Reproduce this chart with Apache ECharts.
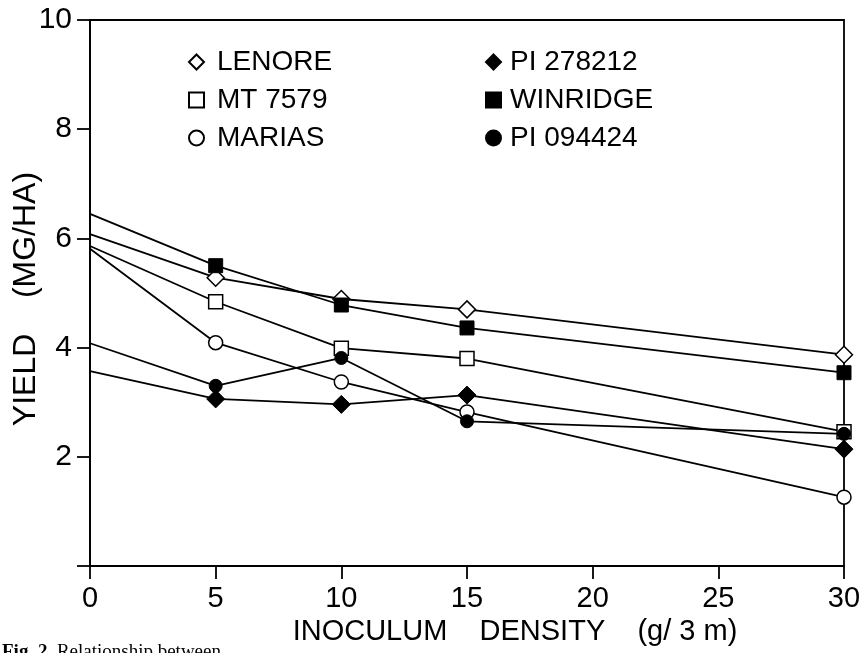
<!DOCTYPE html>
<html>
<head>
<meta charset="utf-8">
<script src="https://cdn.jsdelivr.net/npm/echarts@6/dist/echarts.min.js"></script>
<style>html,body{margin:0;padding:0;background:#fff;}#chart{width:866px;height:653px;}</style>
</head>
<body>
<div id="chart"></div>
<script>
// Inoculum density (g/3m)
const densities = [0, 5, 10, 15, 30];
// Yield (Mg/ha) per cultivar
const lenore   = [6.08, 5.28, 4.89, 4.70, 3.87];
const mt7579   = [5.86, 4.84, 3.99, 3.80, 2.46];
const marias   = [5.81, 4.09, 3.37, 2.82, 1.26];
const pi278212 = [3.57, 3.06, 2.96, 3.13, 2.14];
const winridge = [6.45, 5.50, 4.78, 4.36, 3.54];
const pi094424 = [4.08, 3.30, 3.81, 2.65, 2.42];

const xTicks = [0, 5, 10, 15, 20, 25, 30];
const yTicks = [2, 4, 6, 8, 10];

const legendLeft  = ['LENORE', 'MT 7579', 'MARIAS'];
const legendRight = ['PI 278212', 'WINRIDGE', 'PI 094424'];

const FONT = 'Liberation Sans';

function pts(vals) {
  return densities.map((x, i) => i === 0 ? { value: [x, vals[i]], symbol: 'none' } : [x, vals[i]]);
}
function mk(name, vals, symbol, size, filled) {
  return {
    name: name,
    type: 'line',
    data: pts(vals),
    symbol: symbol,
    symbolSize: size,
    showSymbol: true,
    animation: false,
    lineStyle: { color: '#000', width: 1.8 },
    itemStyle: filled
      ? { color: '#000', borderColor: '#000', borderWidth: 1 }
      : { color: '#fff', borderColor: '#000', borderWidth: 1.5 },
    emphasis: { disabled: true }
  };
}

const chart = echarts.init(document.getElementById('chart'), null, { renderer: 'canvas' });
chart.setOption({
  animation: false,
  backgroundColor: '#fff',
  grid: { left: 90, right: 22, top: 20, bottom: 87, containLabel: false, outerBoundsMode: 'none',
    show: true, borderColor: '#000', borderWidth: 1.8, backgroundColor: 'transparent' },
  legend: [
    {
      orient: 'vertical', left: 183, top: 42, itemWidth: 15, itemHeight: 15, itemGap: 8,
      selectedMode: false,
      data: [
        { name: legendLeft[0], icon: 'diamond' },
        { name: legendLeft[1], icon: 'rect' },
        { name: legendLeft[2], icon: 'circle' }
      ],
      textStyle: { fontFamily: FONT, fontSize: 28, color: '#000', lineHeight: 30, padding: [0, 0, 0, 8] }
    },
    {
      orient: 'vertical', left: 480, top: 42, itemWidth: 15, itemHeight: 15, itemGap: 8,
      selectedMode: false,
      data: [
        { name: legendRight[0], icon: 'diamond' },
        { name: legendRight[1], icon: 'rect' },
        { name: legendRight[2], icon: 'circle' }
      ],
      textStyle: { fontFamily: FONT, fontSize: 28, color: '#000', lineHeight: 30, padding: [0, 0, 0, 4] }
    }
  ],
  xAxis: {
    type: 'value', min: 0, max: 30, interval: 5,
    name: 'INOCULUM    DENSITY    (g/ 3 m)',
    nameLocation: 'middle', nameGap: 51, nameMoveOverlap: false,
    nameTextStyle: { fontFamily: FONT, fontSize: 29, color: '#000', padding: [0, 0, 0, 96] },
    axisLine: { show: true, lineStyle: { color: '#000', width: 1.8 } },
    axisTick: { show: true, length: 13, lineStyle: { color: '#000', width: 1.8 } },
    axisLabel: { fontFamily: FONT, fontSize: 29, color: '#000', margin: 18,
      formatter: v => xTicks.indexOf(v) >= 0 ? String(v) : '' },
    splitLine: { show: false }
  },
  yAxis: {
    type: 'value', min: 0, max: 10, interval: 2,
    name: 'YIELD    (MG/HA)',
    nameLocation: 'middle', nameGap: 48, nameRotate: 90, nameMoveOverlap: false,
    nameTextStyle: { fontFamily: FONT, fontSize: 32, color: '#000', padding: [0, 12, 0, 0] },
    axisLine: { show: true, lineStyle: { color: '#000', width: 1.8 } },
    axisTick: { show: true, length: 13, lineStyle: { color: '#000', width: 1.8 } },
    axisLabel: { fontFamily: FONT, fontSize: 30, color: '#000', margin: 18,
      formatter: v => yTicks.indexOf(v) >= 0 ? String(v) : '' },
    splitLine: { show: false }
  },
  series: [
    mk(legendLeft[0], lenore, 'diamond', 17, false),
    mk(legendLeft[1], mt7579, 'rect', 14, false),
    mk(legendLeft[2], marias, 'circle', 14, false),
    mk(legendRight[0], pi278212, 'diamond', 18, true),
    mk(legendRight[1], winridge, 'rect', 14, true),
    mk(legendRight[2], pi094424, 'circle', 13, true)
  ],
  graphic: [
    {
      type: 'text', left: 2, top: 643, silent: true,
      style: {
        text: '{b|Fig. 2.} {n|Relationship between}',
        rich: {
          b: { fontWeight: 'bold', fontFamily: 'Liberation Serif', fontSize: 19, fill: '#000' },
          n: { fontFamily: 'Liberation Serif', fontSize: 19, fill: '#000' }
        },
        fontFamily: 'Liberation Serif', fontSize: 19, fill: '#000'
      }
    }
  ]
});
</script>
</body>
</html>
